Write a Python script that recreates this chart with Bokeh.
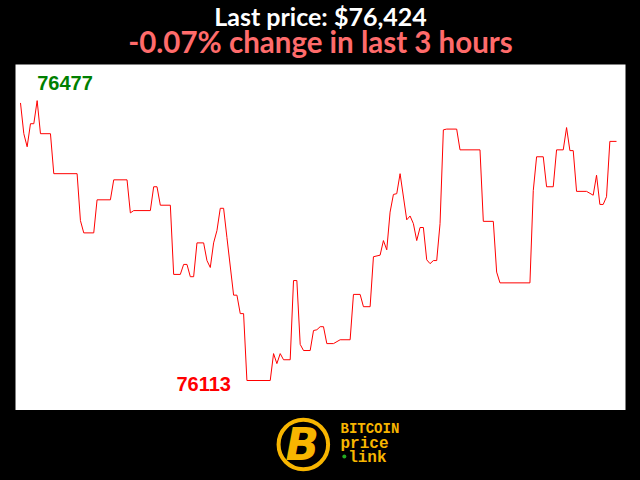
import numpy as np
from jinja2 import Template
from bokeh.plotting import figure
from bokeh.models import Range1d
from bokeh.layouts import column
from bokeh.core.properties import value
from bokeh.embed import file_html
from bokeh.resources import INLINE

# ---- data: price (USD) by minute over the last 3 hours (vertices)
minutes = [0, 1, 2, 3, 4, 5, 6, 9, 10, 17, 18, 19, 22, 23, 27, 28, 32, 33, 34, 39,
           40, 41, 42, 45, 46, 48, 49, 50, 51, 52, 53, 55, 56, 57, 58, 59, 60, 61, 62, 64,
           65, 66, 67, 68, 75, 76, 77, 78, 79, 81, 82, 83, 84, 85, 87, 88, 89, 90, 91, 92,
           94, 96, 99, 100, 102, 103, 105, 106, 108, 109, 110, 111, 112, 113, 114, 116, 117, 118, 119, 120,
           121, 122, 123, 124, 125, 126, 127, 128, 131, 132, 138, 139, 142, 143, 144, 153, 154, 155, 157, 158,
           160, 161, 163, 164, 165, 166, 167, 170, 172, 173, 174, 175, 176, 177, 179]
prices = [76474, 76434, 76417, 76447, 76447, 76477, 76434, 76434, 76382, 76382, 76321, 76305, 76305, 76348, 76348, 76374, 76374, 76331, 76334, 76334,
          76365, 76365, 76341, 76341, 76251, 76251, 76264, 76264, 76248, 76248, 76292, 76292, 76269, 76260, 76292, 76308, 76337, 76337, 76299, 76224,
          76224, 76200, 76200, 76113, 76113, 76148, 76135, 76148, 76140, 76140, 76243, 76243, 76160, 76152, 76152, 76178, 76179, 76183, 76183, 76161,
          76161, 76166, 76166, 76225, 76225, 76209, 76209, 76274, 76276, 76295, 76283, 76332, 76355, 76356, 76382, 76322, 76327, 76317, 76295, 76312,
          76312, 76270, 76265, 76269, 76269, 76317, 76439, 76440, 76440, 76413, 76413, 76320, 76320, 76254, 76240, 76240, 76360, 76404, 76404, 76365,
          76365, 76413, 76413, 76442, 76412, 76412, 76359, 76359, 76354, 76380, 76342, 76342, 76352, 76424, 76424]

first_price = prices[0]
last_price = prices[-1]
pct_change = (last_price - first_price) / first_price * 100
title_line1 = f"Last price: ${last_price:,}"
title_line2 = f"{pct_change:.2f}% change in last 3 hours"

logo_words = ["BITCOIN", "price", "link"]

GOLD = "#F7B500"
TITLE_FONT = value("Lato")

common = dict(output_backend="svg", toolbar_location=None,
              x_axis_type=None, y_axis_type=None,
              border_fill_color="black", outline_line_color=None)

# ---- title strip
t = figure(width=640, height=64, x_range=Range1d(0, 640), y_range=Range1d(64, 0),
           min_border=0, background_fill_color="black", **common)
t.text(x=[320], y=[15], text=[title_line1], text_font=TITLE_FONT, text_font_style="bold",
       text_font_size="25px", text_color="white", text_align="center", text_baseline="alphabetic")
t.text(x=[320], y=[41], text=[title_line2], text_font=TITLE_FONT, text_font_style="bold",
       text_font_size="29.5px", text_color="#FF6B6B", text_align="center", text_baseline="alphabetic")

# ---- main chart
p = figure(width=640, height=346, x_range=Range1d(-1.5, 181.7), y_range=Range1d(76074, 76524),
           min_border_left=15, min_border_right=15, min_border_top=0, min_border_bottom=0,
           background_fill_color="white", **common)
p.line(minutes, prices, line_color="red", line_width=1)

imax = int(np.argmax(prices))
imin = int(np.argmin(prices))
p.text(x=[minutes[imax]], y=[prices[imax]], text=[str(prices[imax])],
       text_font=value("Liberation Sans"), text_font_style="bold", text_font_size="20px",
       text_color="green", text_align="left", text_baseline="alphabetic",
       x_offset=0, y_offset=-18)
p.text(x=[minutes[imin]], y=[prices[imin]], text=[str(prices[imin])],
       text_font=value("Liberation Sans"), text_font_style="bold", text_font_size="20px",
       text_color="red", text_align="right", text_baseline="alphabetic",
       x_offset=-16, y_offset=3)

# ---- logo strip
g = figure(width=640, height=70, x_range=Range1d(0, 640), y_range=Range1d(70, 0),
           min_border=0, background_fill_color="black", **common)
g.circle(x=[302], y=[34], radius=26, fill_color=None, line_color=GOLD, line_width=4)
g.text(x=[301], y=[34], text=["B"], text_font=value("DejaVu Sans"), text_font_style="bold italic",
       text_font_size="44px", text_color=GOLD, text_align="center", text_baseline="middle")
g.text(x=[341], y=[18], text=[logo_words[0]], text_font=value("Liberation Mono"), text_font_style="bold",
       text_font_size="14px", text_color=GOLD, text_align="left", text_baseline="alphabetic")
g.text(x=[341], y=[33], text=[logo_words[1]], text_font=value("Liberation Mono"), text_font_style="bold",
       text_font_size="16px", text_color=GOLD, text_align="left", text_baseline="alphabetic")
g.text(x=[349], y=[47], text=[logo_words[2]], text_font=value("Liberation Mono"), text_font_style="bold",
       text_font_size="16px", text_color=GOLD, text_align="left", text_baseline="alphabetic")
g.scatter(x=[345], y=[46], size=4, marker="circle", fill_color="#22AA22", line_color=None)

layout = column(t, p, g, spacing=0)

tmpl = Template("""{% extends base %}
{% block postamble %}<style>html, body { margin: 0 !important; padding: 0; background: #000; overflow: hidden; }</style>{% endblock %}""")

with open("out.html", "w") as f:
    f.write(file_html(layout, INLINE, template=tmpl))
